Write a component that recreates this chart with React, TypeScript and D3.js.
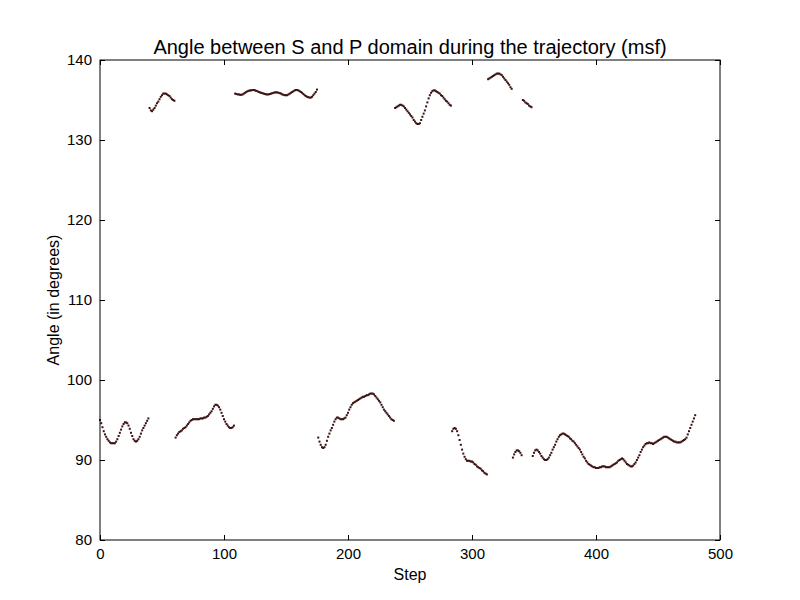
import React, { useRef, useEffect } from "react";
import * as d3 from "d3";

// Angle per step, split where the trace jumps between the ~92 and ~135 branches
const lowA = [
  95.0, 94.6, 94.1, 93.6, 93.2, 92.9, 92.6, 92.4, 92.2, 92.1, 92.1, 92.1, 92.1, 92.3, 92.6, 93.0, 93.4, 93.8,
  94.2, 94.5, 94.7, 94.7, 94.6, 94.3, 93.9, 93.4, 93.0, 92.6, 92.4, 92.3, 92.4, 92.6, 92.9, 93.3, 93.7, 94.0,
  94.3, 94.6, 94.9, 95.2,
]; // steps 0-39
const highA = [
  134.0, 133.7, 133.6, 133.8, 134.0, 134.3, 134.6, 134.8, 135.1, 135.4, 135.6, 135.8, 135.8, 135.8, 135.7,
  135.6, 135.5, 135.3, 135.1, 135.0, 134.9,
]; // steps 40-60
const lowB = [
  92.8, 93.1, 93.3, 93.5, 93.6, 93.7, 93.9, 94.0, 94.1, 94.3, 94.5, 94.7, 94.9, 95.0, 95.1, 95.1, 95.1, 95.1,
  95.1, 95.1, 95.2, 95.2, 95.2, 95.3, 95.3, 95.4, 95.5, 95.7, 95.9, 96.1, 96.4, 96.7, 96.9, 96.9, 96.8, 96.6,
  96.3, 95.9, 95.5, 95.1, 94.8, 94.5, 94.3, 94.1, 94.0, 94.0, 94.1, 94.3,
]; // steps 61-108
const highB = [
  135.8, 135.75, 135.7, 135.7, 135.65, 135.65, 135.7, 135.8, 135.9, 136.0, 136.1, 136.15, 136.2, 136.2,
  136.25, 136.25, 136.2, 136.15, 136.1, 136.0, 135.95, 135.9, 135.85, 135.8, 135.75, 135.7, 135.7, 135.7,
  135.75, 135.8, 135.85, 135.9, 135.95, 135.95, 135.95, 135.9, 135.85, 135.8, 135.7, 135.65, 135.6, 135.6,
  135.6, 135.7, 135.8, 135.9, 136.0, 136.1, 136.2, 136.25, 136.25, 136.2, 136.1, 136.0, 135.9, 135.75,
  135.6, 135.5, 135.4, 135.35, 135.3, 135.3, 135.4, 135.6, 135.8, 136.0, 136.3,
]; // steps 109-175
const lowC = [
  92.8, 92.3, 91.9, 91.6, 91.5, 91.6, 91.9, 92.4, 92.9, 93.3, 93.7, 94.0, 94.4, 94.8, 95.1, 95.3, 95.3, 95.2,
  95.1, 95.1, 95.1, 95.2, 95.3, 95.6, 95.9, 96.3, 96.6, 96.9, 97.1, 97.2, 97.3, 97.4, 97.5, 97.6, 97.7, 97.8,
  97.9, 97.9, 98.0, 98.1, 98.1, 98.2, 98.3, 98.3, 98.3, 98.2, 98.0, 97.8, 97.6, 97.4, 97.2, 96.9, 96.6, 96.3,
  96.1, 95.9, 95.7, 95.5, 95.3, 95.1, 95.0, 94.9,
]; // steps 176-237
const highC = [
  134.0, 134.1, 134.2, 134.3, 134.4, 134.4, 134.3, 134.2, 134.0, 133.8, 133.6, 133.4, 133.2, 133.0, 132.8,
  132.5, 132.3, 132.1, 132.0, 132.0, 132.1, 132.5, 132.9, 133.3, 133.7, 134.2, 134.7, 135.2, 135.6, 135.9,
  136.1, 136.2, 136.2, 136.1, 136.0, 135.9, 135.8, 135.6, 135.5, 135.3, 135.1, 134.9, 134.8, 134.6, 134.4,
  134.3,
]; // steps 238-283
const lowD = [
  93.6, 93.9, 94.0, 93.9, 93.6, 93.1, 92.5, 91.9, 91.3, 90.8, 90.4, 90.1, 89.9, 89.9, 89.9, 89.8, 89.8, 89.7,
  89.5, 89.4, 89.2, 89.1, 89.0, 88.9, 88.7, 88.6, 88.4, 88.3, 88.2,
]; // steps 284-312
const highD = [
  137.6, 137.7, 137.8, 137.9, 138.0, 138.1, 138.2, 138.3, 138.3, 138.3, 138.2, 138.1, 137.9, 137.7, 137.5,
  137.3, 137.1, 136.9, 136.6, 136.4,
]; // steps 313-332
const lowE = [90.3, 90.7, 91.0, 91.2, 91.2, 91.1, 90.9, 90.6]; // steps 333-340
const highE = [135.0, 134.9, 134.7, 134.6, 134.5, 134.3, 134.2, 134.1]; // steps 341-348
const lowF = [
  90.5, 90.9, 91.2, 91.3, 91.2, 91.0, 90.8, 90.5, 90.3, 90.1, 90.0, 90.0, 90.1, 90.3, 90.6, 90.9, 91.3, 91.6,
  91.9, 92.3, 92.6, 92.9, 93.1, 93.2, 93.3, 93.3, 93.2, 93.1, 93.0, 92.9, 92.7, 92.6, 92.4, 92.3, 92.1, 91.9,
  91.7, 91.5, 91.3, 91.0, 90.7, 90.4, 90.2, 89.9, 89.7, 89.5, 89.4, 89.3, 89.2, 89.1, 89.1, 89.0, 89.0, 89.0,
  89.1, 89.1, 89.2, 89.2, 89.2, 89.1, 89.1, 89.1, 89.1, 89.2, 89.3, 89.4, 89.5, 89.6, 89.7, 89.9, 90.0, 90.1,
  90.2, 90.1, 89.9, 89.7, 89.5, 89.4, 89.3, 89.2, 89.2, 89.3, 89.5, 89.7, 90.0, 90.3, 90.6, 91.0, 91.3, 91.6,
  91.8, 92.0, 92.1, 92.1, 92.2, 92.1, 92.1, 92.0, 92.1, 92.2, 92.3, 92.4, 92.5, 92.6, 92.7, 92.8, 92.9, 92.9,
  92.9, 92.8, 92.7, 92.6, 92.5, 92.4, 92.3, 92.3, 92.2, 92.2, 92.2, 92.2, 92.3, 92.4, 92.5, 92.6, 92.8, 93.2,
  93.6, 94.0, 94.4, 94.8, 95.2, 95.6,
]; // steps 349-480

const segments = [
  { start: 0, values: lowA },
  { start: 40, values: highA },
  { start: 61, values: lowB },
  { start: 109, values: highB },
  { start: 176, values: lowC },
  { start: 238, values: highC },
  { start: 284, values: lowD },
  { start: 313, values: highD },
  { start: 333, values: lowE },
  { start: 341, values: highE },
  { start: 349, values: lowF },
];

const xTicks = [0, 100, 200, 300, 400, 500];
const yTicks = [80, 90, 100, 110, 120, 130, 140];

const W = 800;
const H = 600;
const margin = { top: 60, right: 80, bottom: 60, left: 100 };
const FONT = "'Liberation Sans', Arial, sans-serif";

const AngleChart: React.FC = () => {
  const svgRef = useRef<SVGSVGElement>(null);

  useEffect(() => {
    if (!svgRef.current) return;
    const svg = d3.select(svgRef.current);
    svg.selectAll("*").remove();

    const iw = W - margin.left - margin.right;
    const ih = H - margin.top - margin.bottom;

    const x = d3.scaleLinear().domain([0, 500]).range([0, iw]);
    const y = d3.scaleLinear().domain([80, 140]).range([ih, 0]);

    svg.append("rect").attr("width", W).attr("height", H).attr("fill", "#fff");

    const g = svg.append("g").attr("transform", `translate(${margin.left},${margin.top})`);

    const points = segments.flatMap((s) =>
      s.values.map((v, i) => ({ step: s.start + i, angle: v }))
    );

    g.selectAll(".pt")
      .data(points)
      .enter()
      .append("rect")
      .attr("class", "pt")
      .attr("x", (d) => x(d.step) - 1)
      .attr("y", (d) => y(d.angle) - 1)
      .attr("width", 2)
      .attr("height", 2)
      .attr("fill", "#3e1313");

    // ticks inside on all four sides, matplotlib classic look
    const styleAxis = (sel: any) => {
      sel.select(".domain").remove();
      sel.selectAll("line").attr("stroke", "#000").attr("stroke-width", 1);
      sel.selectAll("text").attr("font-family", FONT).attr("font-size", 15).attr("fill", "#000");
    };

    g.append("g")
      .attr("transform", `translate(0,${ih})`)
      .call(d3.axisBottom(x).tickValues(xTicks).tickSize(-5).tickPadding(8).tickFormat(d3.format("d")))
      .call(styleAxis);
    g.append("g")
      .call(d3.axisTop(x).tickValues(xTicks).tickSize(-5).tickFormat(() => ""))
      .call(styleAxis);
    g.append("g")
      .call(d3.axisLeft(y).tickValues(yTicks).tickSize(-5).tickPadding(8).tickFormat(d3.format("d")))
      .call(styleAxis);
    g.append("g")
      .attr("transform", `translate(${iw},0)`)
      .call(d3.axisRight(y).tickValues(yTicks).tickSize(-5).tickFormat(() => ""))
      .call(styleAxis);

    g.append("rect")
      .attr("width", iw)
      .attr("height", ih)
      .attr("fill", "none")
      .attr("stroke", "#000")
      .attr("stroke-width", 1);

    svg.append("text")
      .attr("x", margin.left + iw / 2)
      .attr("y", 54)
      .attr("text-anchor", "middle")
      .attr("font-family", FONT)
      .attr("font-size", 20)
      .text("Angle between S and P domain during the trajectory (msf)");

    svg.append("text")
      .attr("x", margin.left + iw / 2)
      .attr("y", 580)
      .attr("text-anchor", "middle")
      .attr("font-family", FONT)
      .attr("font-size", 16)
      .text("Step");

    svg.append("text")
      .attr("transform", `translate(59,${margin.top + ih / 2}) rotate(-90)`)
      .attr("text-anchor", "middle")
      .attr("font-family", FONT)
      .attr("font-size", 16)
      .text("Angle (in degrees)");
  }, []);

  return <svg ref={svgRef} width={W} height={H} style={{ display: "block" }} />;
};

export default function App() {
  return (
    <div style={{ position: "absolute", left: 0, top: 0 }}>
      <AngleChart />
    </div>
  );
}
